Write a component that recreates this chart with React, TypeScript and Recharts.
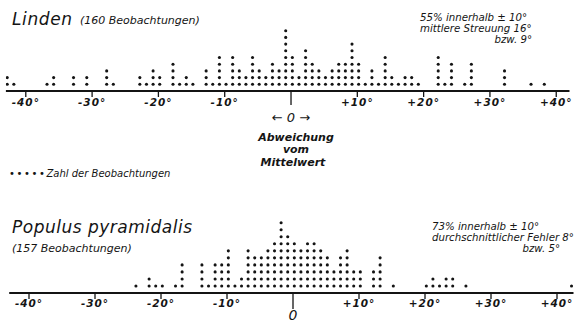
import React from 'react';
import { ScatterChart, Scatter, XAxis, YAxis } from 'recharts';

// Axis ticks (degrees of deviation from the mean)
const TICKS = [-40, -30, -20, -10, 0, 10, 20, 30, 40];

// Linden (160 Beobachtungen): column (degree) and number of observations
const LINDEN_COLS = [
  -42, -41, -36, -35, -32, -30, -27, -26, -22, -21, -20, -19, -17, -16, -15, -14,
  -12, -11, -10, -9, -8, -7, -6, -5, -4, -3, -2, -1, 0,
  1, 2, 3, 4, 5, 6, 7, 8, 9, 10, 11, 12, 13, 14, 15,
  16, 17, 18, 19, 20, 23, 24, 25, 27, 28, 33, 37, 39,
];
const LINDEN_COUNTS = [
  2, 1, 1, 2, 2, 2, 3, 1, 2, 1, 3, 2, 4, 1, 2, 1,
  3, 1, 5, 1, 5, 3, 2, 5, 3, 2, 4, 3, 9,
  5, 2, 6, 4, 3, 2, 3, 4, 4, 7, 4, 1, 3, 1, 5,
  2, 1, 2, 2, 1, 5, 1, 4, 1, 4, 3, 1, 1,
];

// Populus pyramidalis (157 Beobachtungen)
const POPULUS_COLS = [
  -23, -21, -20, -19, -17, -16, -13, -12, -11, -10, -9, -8, -7, -6, -5, -4, -3, -2, -1,
  0, 1, 2, 3, 4, 5, 6, 7, 8, 9, 10, 11, 13, 14, 16,
  21, 22, 23, 24, 25, 27, 43,
];
const POPULUS_COUNTS = [
  1, 2, 1, 1, 1, 4, 4, 1, 4, 4, 6, 1, 2, 6, 5, 5, 6, 7, 10,
  8, 7, 6, 7, 7, 6, 5, 3, 5, 6, 3, 3, 3, 5, 1,
  1, 2, 1, 2, 2, 1, 1,
];

// columns sit slightly left of the printed degree marks
const COL_SHIFT = -0.8;

function toDots(cols: number[], counts: number[]) {
  const out: { x: number; y: number }[] = [];
  cols.forEach((c, i) => {
    for (let r = 1; r <= counts[i]; r++) out.push({ x: c + COL_SHIFT, y: r });
  });
  return out;
}

const lindenDots = toDots(LINDEN_COLS, LINDEN_COUNTS);
const populusDots = toDots(POPULUS_COLS, POPULUS_COUNTS);

const FONT = '"DejaVu Sans", sans-serif';
const INK = '#141414';

const tickText = (v: number) => (v === 0 ? '' : v > 0 ? `+${v}°` : `-${Math.abs(v)}°`);

const makeTick = (bottom: boolean) => (props: any) => {
  const { x, y, payload } = props;
  const v = payload.value as number;
  return (
    <g>
      <line
        x1={x}
        x2={x}
        y1={y - 1}
        y2={y + (v === 0 ? (bottom ? 16 : 14) : 6)}
        stroke={INK}
        strokeWidth={1.3}
      />
      <text
        x={x}
        y={y + (bottom ? 14 : 15)}
        textAnchor="middle"
        fontFamily={FONT}
        fontStyle="italic"
        fontWeight="bold"
        fontSize={10.5}
        letterSpacing={1}
        fill={INK}
      >
        {tickText(v)}
      </text>
      {bottom && v === 0 ? (
        <text
          x={x}
          y={y + 27}
          textAnchor="middle"
          fontFamily={FONT}
          fontStyle="italic"
          fontSize={14}
          fill={INK}
        >
          0
        </text>
      ) : null}
    </g>
  );
};

const dotShape = (p: any) => <circle cx={p.cx} cy={p.cy} r={1.55} fill={INK} />;

export default function App() {
  const txt = {
    fontFamily: FONT,
    fontStyle: 'italic' as const,
    fill: INK,
  };
  return (
    <div
      style={{
        position: 'absolute',
        left: 0,
        top: 0,
        width: 574,
        height: 323,
        background: '#fff',
        overflow: 'hidden',
      }}
    >
      <div style={{ position: 'absolute', left: 0, top: 0 }}>
        <ScatterChart
          width={574}
          height={130}
          margin={{ top: 24, right: 4.5, bottom: 0, left: 5.9 }}
        >
          <XAxis
            type="number"
            dataKey="x"
            domain={[-43, 42]}
            ticks={TICKS}
            interval={0}
            allowDataOverflow
            height={39}
            tickSize={0}
            tickMargin={0}
            tickLine={false}
            axisLine={{ stroke: INK, strokeWidth: 2 }}
            tick={makeTick(false)}
          />
          <YAxis type="number" dataKey="y" hide domain={[0, 10]} />
          <Scatter data={lindenDots} isAnimationActive={false} shape={dotShape} />
        </ScatterChart>
      </div>
      <div style={{ position: 'absolute', left: 0, top: 150 }}>
        <ScatterChart
          width={574}
          height={173}
          margin={{ top: 65.7, right: 0.5, bottom: 0, left: 9.2 }}
        >
          <XAxis
            type="number"
            dataKey="x"
            domain={[-43, 42.5]}
            ticks={TICKS}
            interval={0}
            allowDataOverflow
            height={30}
            tickSize={0}
            tickMargin={0}
            tickLine={false}
            axisLine={{ stroke: INK, strokeWidth: 2 }}
            tick={makeTick(true)}
          />
          <YAxis type="number" dataKey="y" hide domain={[0, 11]} />
          <Scatter data={populusDots} isAnimationActive={false} shape={dotShape} />
        </ScatterChart>
      </div>
      <svg
        width={574}
        height={323}
        style={{ position: 'absolute', left: 0, top: 0, pointerEvents: 'none' }}
      >
        <text x={12} y={25} fontSize={17} letterSpacing={0.6} {...txt}>
          Linden
        </text>
        <text x={80} y={24} fontSize={11} {...txt}>
          (160 Beobachtungen)
        </text>
        <text x={420} y={21} fontSize={10.2} {...txt}>
          55% innerhalb ± 10°
        </text>
        <text x={420} y={32} fontSize={10.2} {...txt}>
          mittlere Streuung 16°
        </text>
        <text x={532} y={43} fontSize={10.2} textAnchor="end" {...txt}>
          bzw. 9°
        </text>

        <text x={291} y={122} fontSize={13} textAnchor="middle" {...txt}>
          ← 0 →
        </text>
        <text x={296} y={141} fontSize={11} fontWeight="bold" textAnchor="middle" {...txt}>
          Abweichung
        </text>
        <text x={296} y={153} fontSize={11} fontWeight="bold" textAnchor="middle" {...txt}>
          vom
        </text>
        <text x={293} y={166} fontSize={11} fontWeight="bold" textAnchor="middle" {...txt}>
          Mittelwert
        </text>

        <text x={9} y={177} fontSize={10} {...txt}>
          <tspan letterSpacing={1.6}>•••••</tspan>
          <tspan>Zahl der Beobachtungen</tspan>
        </text>

        <text x={12} y={233} fontSize={17} letterSpacing={0.5} {...txt}>
          Populus pyramidalis
        </text>
        <text x={12} y={252} fontSize={11} {...txt}>
          (157 Beobachtungen)
        </text>
        <text x={432} y={230} fontSize={10.2} {...txt}>
          73% innerhalb ± 10°
        </text>
        <text x={432} y={241} fontSize={10.2} {...txt}>
          durchschnittlicher Fehler 8°
        </text>
        <text x={560} y={252} fontSize={10.2} textAnchor="end" {...txt}>
          bzw. 5°
        </text>
      </svg>
    </div>
  );
}
